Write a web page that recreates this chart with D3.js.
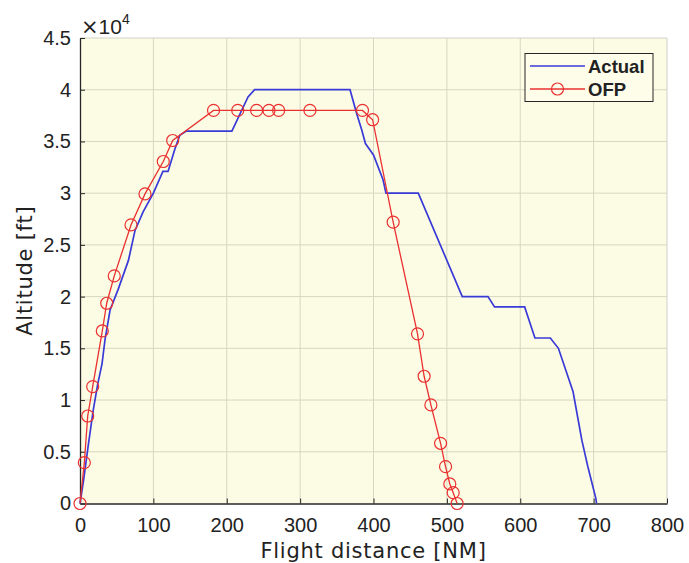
<!DOCTYPE html>
<html lang="en">
<head>
    <meta charset="UTF-8">
    <title>Altitude vs flight distance</title>
    <script src="https://d3js.org/d3.v7.min.js"></script>
    <style>
        body { margin: 0; background: #ffffff; }
        text { font-family: "Liberation Sans", Arial, sans-serif; fill: #222222; }
    </style>
</head>
<body>
    <div id="chart"></div>
    <script>
        // Actual track (distance NM, altitude ft)
        const actualDist = [0, 5, 11, 18, 24, 30, 34, 41, 52, 66, 75, 86, 100, 113, 120, 129, 136, 145, 207, 229, 238, 368, 377, 384, 389, 400, 413, 417, 461, 521, 556, 565, 606, 620, 641, 652, 672, 684, 692, 703, 704];
        const actualAlt = [0, 2300, 5500, 9000, 11500, 13500, 15800, 18700, 20700, 23500, 26400, 28200, 30000, 32100, 32100, 34200, 35600, 36000, 36000, 39300, 40000, 40000, 37700, 36100, 34800, 33700, 31300, 30000, 30000, 20000, 20000, 19000, 19000, 16000, 16000, 15000, 10800, 6100, 3600, 500, 0];

        // Operational flight plan waypoints
        const ofpDist = [0, 5.9, 10.5, 17.3, 30.4, 36.4, 46.7, 69.5, 88.6, 113.5, 126.3, 182, 215, 240.7, 257.5, 270.7, 313.4, 385, 398.8, 426.8, 460, 469, 478.2, 491.4, 498.2, 504, 508.6, 514];
        const ofpAlt = [0, 3950, 8460, 11300, 16680, 19360, 22000, 26930, 29930, 33060, 35090, 38000, 38000, 38000, 38000, 38000, 38000, 38000, 37100, 27200, 16400, 12300, 9530, 5820, 3560, 1890, 1045, 0];

        const xTicks = [0, 100, 200, 300, 400, 500, 600, 700, 800];
        const yTicks = [0, 5000, 10000, 15000, 20000, 25000, 30000, 35000, 40000, 45000];
        const seriesNames = ["Actual", "OFP"];

        const W = 689, H = 563;
        const m = { left: 80, top: 38, right: 667, bottom: 503.5 };

        const svg = d3.select("#chart").append("svg")
            .attr("width", W)
            .attr("height", H);

        const x = d3.scaleLinear().domain([0, 800]).range([m.left, m.right]);
        const y = d3.scaleLinear().domain([0, 45000]).range([m.bottom, m.top]);

        // plot background
        svg.append("rect")
            .attr("x", m.left).attr("y", m.top)
            .attr("width", m.right - m.left).attr("height", m.bottom - m.top)
            .attr("fill", "#fcfce4");

        // grid
        svg.append("g").selectAll("line").data(xTicks.slice(1, -1)).enter().append("line")
            .attr("x1", d => x(d)).attr("x2", d => x(d))
            .attr("y1", m.top).attr("y2", m.bottom)
            .attr("stroke", "#d6d6c2").attr("stroke-width", 1);
        svg.append("g").selectAll("line").data(yTicks.slice(1, -1)).enter().append("line")
            .attr("x1", m.left).attr("x2", m.right)
            .attr("y1", d => y(d)).attr("y2", d => y(d))
            .attr("stroke", "#d6d6c2").attr("stroke-width", 1);

        // faint top / right box
        svg.append("path")
            .attr("d", `M${m.left},${m.top}H${m.right}V${m.bottom}`)
            .attr("fill", "none").attr("stroke", "#d0d0c8").attr("stroke-width", 1);

        // axes
        const xAxis = svg.append("g")
            .attr("transform", `translate(0,${m.bottom})`)
            .call(d3.axisBottom(x).tickValues(xTicks).tickSizeInner(-5).tickSizeOuter(0).tickPadding(14));
        const yAxis = svg.append("g")
            .attr("transform", `translate(${m.left},0)`)
            .call(d3.axisLeft(y).tickValues(yTicks).tickSizeInner(-5).tickSizeOuter(0).tickPadding(9)
                .tickFormat(d => d3.format("~g")(d / 10000)));
        [xAxis, yAxis].forEach(a => {
            a.select(".domain").attr("stroke", "#262626").attr("stroke-width", 1.3);
            a.selectAll(".tick line").attr("stroke", "#262626");
            a.selectAll(".tick text").attr("font-size", "20px").attr("fill", "#222222")
                .style("font-family", "\"Liberation Sans\", Arial, sans-serif");
        });

        // exponent
        const expo = svg.append("text").attr("x", 81).attr("y", 34).attr("font-size", "21px");
        expo.append("tspan").style("font-family", "\"DejaVu Sans\", sans-serif").text("\u00d7");
        expo.append("tspan").text("10");
        expo.append("tspan").attr("dy", -10).attr("font-size", "14px").text("4");

        // axis labels
        svg.append("text")
            .attr("x", (m.left + m.right) / 2).attr("y", 558)
            .attr("text-anchor", "middle").attr("font-size", "21px")
            .style("font-family", "\"DejaVu Sans\", sans-serif")
            .style("letter-spacing", "0.75px")
            .text("Flight distance [NM]");
        svg.append("text")
            .attr("transform", `translate(32,${(m.top + m.bottom) / 2}) rotate(-90)`)
            .attr("text-anchor", "middle").attr("font-size", "21px")
            .style("font-family", "\"DejaVu Sans\", sans-serif")
            .style("letter-spacing", "0.75px")
            .text("Altitude [ft]");

        const line = d3.line().x(d => x(d[0])).y(d => y(d[1]));
        const actual = actualDist.map((d, i) => [d, actualAlt[i]]);
        const ofp = ofpDist.map((d, i) => [d, ofpAlt[i]]);

        svg.append("path").datum(actual)
            .attr("d", line).attr("fill", "none")
            .attr("stroke", "#3a3ad8").attr("stroke-width", 1.7);

        svg.append("path").datum(ofp)
            .attr("d", line).attr("fill", "none")
            .attr("stroke", "#ea3030").attr("stroke-width", 1.3);
        svg.append("g").selectAll("circle").data(ofp).enter().append("circle")
            .attr("cx", d => x(d[0])).attr("cy", d => y(d[1])).attr("r", 6)
            .attr("fill", "none").attr("stroke", "#ea3030").attr("stroke-width", 1.2);

        // legend
        const lg = svg.append("g");
        lg.append("rect").attr("x", 525).attr("y", 53.5).attr("width", 128).attr("height", 48)
            .attr("fill", "#fdfdea").attr("stroke", "#262626").attr("stroke-width", 1);
        const colors = ["#3a3ad8", "#ea3030"];
        seriesNames.forEach((name, i) => {
            const cy = 66 + i * 23;
            lg.append("line").attr("x1", 530).attr("x2", 585).attr("y1", cy).attr("y2", cy)
                .attr("stroke", colors[i]).attr("stroke-width", i === 0 ? 1.7 : 1.3);
            if (i === 1) {
                lg.append("circle").attr("cx", 557.5).attr("cy", cy).attr("r", 6)
                    .attr("fill", "none").attr("stroke", colors[i]).attr("stroke-width", 1.2);
            }
            lg.append("text").attr("x", 588).attr("y", cy).attr("dy", "0.36em")
                .attr("font-size", "18.5px").attr("font-weight", "bold").text(name);
        });
    </script>
</body>
</html>
